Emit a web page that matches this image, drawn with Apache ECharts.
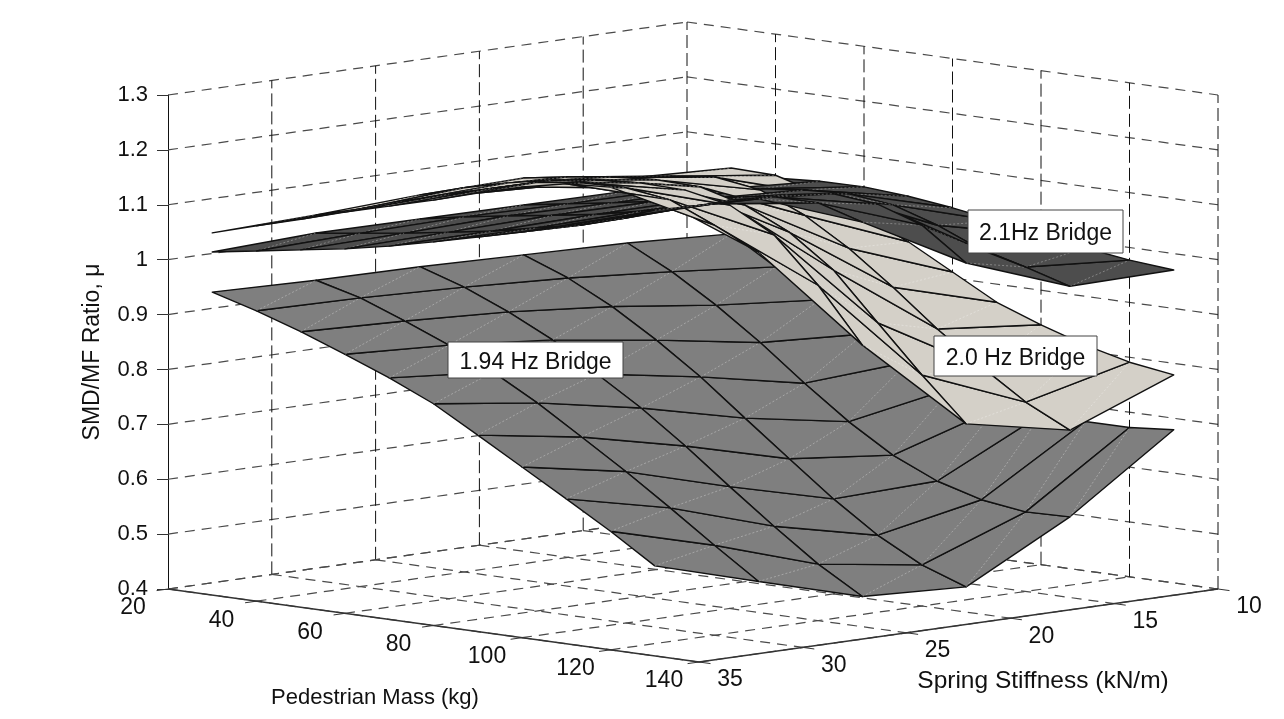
<!DOCTYPE html>
<html>
<head>
<meta charset="utf-8">
<style>html,body{margin:0;padding:0;background:#fff}#c{width:1284px;height:719px}</style>
<script src="https://cdn.jsdelivr.net/npm/echarts@6/dist/echarts.min.js"></script>
</head>
<body>
<div id="c"></div>
<script>
// Axis ticks
const massTicks = [20, 40, 60, 80, 100, 120, 140];
const stiffTicks = [35, 30, 25, 20, 15, 10];
const ratioTicks = [0.4, 0.5, 0.6, 0.7, 0.8, 0.9, 1, 1.1, 1.2, 1.3];
// Surface sample grid
const masses = [30, 40, 50, 60, 70, 80, 90, 100, 110, 120, 130];
const stiffness = [35, 30, 25, 20, 15, 10];
// One row per stiffness, one column per mass
const bridge194 = [
  [.952,.929,.902,.872,.840,.804,.758,.711,.664,.616,.564],
  [.947,.926,.895,.862,.824,.779,.728,.676,.621,.564,.509],
  [.945,.919,.885,.845,.794,.743,.685,.622,.561,.503,.455],
  [.940,.909,.868,.818,.762,.698,.635,.573,.518,.475,.446],
  [.935,.894,.844,.787,.724,.665,.615,.579,.556,.545,.547],
  [.925,.876,.827,.776,.736,.700,.674,.673,.672,.672,.679]
];
const bridge200 = [
  [1.060,1.084,1.107,1.131,1.153,1.175,1.199,1.221,1.238,1.243,1.236],
  [1.066,1.088,1.113,1.137,1.159,1.181,1.191,1.193,1.182,1.147,1.109],
  [1.076,1.100,1.120,1.136,1.147,1.153,1.151,1.135,1.092,1.011,.913],
  [1.080,1.093,1.104,1.110,1.108,1.086,1.048,.990,.905,.821,.743],
  [1.053,1.068,1.077,1.065,1.030,.981,.921,.856,.798,.745,.705],
  [1.045,1.043,1.020,.993,.955,.911,.867,.837,.811,.791,.779]
];
const bridge210 = [
  [1.025,1.038,1.051,1.064,1.080,1.099,1.119,1.139,1.163,1.185,1.212],
  [1.033,1.044,1.055,1.068,1.081,1.098,1.114,1.138,1.166,1.186,1.206],
  [1.032,1.047,1.060,1.072,1.085,1.102,1.122,1.144,1.161,1.161,1.137],
  [1.031,1.044,1.057,1.071,1.086,1.101,1.116,1.129,1.121,1.094,1.036],
  [1.030,1.043,1.055,1.067,1.076,1.080,1.071,1.045,1.011,.991,.967],
  [1.025,1.038,1.043,1.044,1.038,1.028,1.015,1.001,.988,.977,.970]
];
const surfaceLabels = ['1.94 Hz Bridge', '2.0 Hz Bridge', '2.1Hz Bridge'];
const massName = 'Pedestrian Mass (kg)';
const stiffName = 'Spring Stiffness (kN/m)';
const ratioName = 'SMD/MF Ratio, \u03bc';

// Fixed oblique view: maps (mass, stiffness, ratio) onto the grid's two value axes
const M0 = 20, M1 = 140, K0 = 35, K1 = 10;
const XM = 531 / 1050, XK = 519 / 1050, DM = 73 / 494 * 0.9, DK = 73 / 494 * 0.9;
function project(m, k, z) {
  const a = (m - M0) / (M1 - M0), b = (K0 - k) / (K0 - K1);
  return [a * XM + b * XK, z - a * DM + b * DK];
}
const FONT = '"Liberation Sans", Arial, sans-serif';

function quads(surface, name, fill) {
  const out = [];
  for (let r = 0; r + 1 < stiffness.length; r++) {
    for (let c = 0; c + 1 < masses.length; c++) {
      out.push([r, c]);
    }
  }
  return {
    type: 'custom', name, coordinateSystem: 'cartesian2d', clip: false, silent: true,
    animation: false, z: 3,
    data: out,
    renderItem(params, api) {
      const r = api.value(0), c = api.value(1);
      const corners = [[r, c], [r, c + 1], [r + 1, c + 1], [r + 1, c]];
      const pts = corners.map(([i, j]) => api.coord(project(masses[j], stiffness[i], surface[i][j])));
      const avgZ = corners.reduce((s, [i, j]) => s + surface[i][j], 0) / 4;
      const base = surface === bridge194 ? 0 : 2000;
      const z2 = Math.round(base + avgZ * 1000 + (masses[c] + 5) + (stiffness[r] - 2.5) * 0.2);
      return {
        type: 'group',
        children: [
          { type: 'polygon', z2, shape: { points: pts },
            style: { fill, stroke: '#111', lineWidth: 1.4, lineJoin: 'round' } },
          { type: 'line', z2, shape: { x1: pts[1][0], y1: pts[1][1], x2: pts[3][0], y2: pts[3][1] },
            style: { stroke: 'rgba(255,255,255,0.38)', lineWidth: 0.8, lineDash: [2, 2] } }
        ]
      };
    }
  };
}

// Wall, floor and axis line segments: [m1,k1,z1,m2,k2,z2,kind]
const zLo = ratioTicks[0], zHi = ratioTicks[ratioTicks.length - 1];
const segs = [];
ratioTicks.forEach(z => {
  segs.push([M0, K0, z, M0, K1, z, 0]);
  segs.push([M0, K1, z, M1, K1, z, 0]);
});
stiffTicks.forEach(k => {
  segs.push([M0, k, zLo, M1, k, zLo, 0]);
  if (k !== K0) segs.push([M0, k, zLo, M0, k, zHi, 1]);
});
massTicks.forEach(m => {
  segs.push([m, K0, zLo, m, K1, zLo, 0]);
  if (m !== M0) segs.push([m, K1, zLo, m, K1, zHi, 1]);
});
segs.push([M0, K0, zLo, M1, K0, zLo, 2]);
segs.push([M1, K0, zLo, M1, K1, zLo, 2]);
massTicks.forEach(m => segs.push([m, K0, zLo, m, K0 + 0.55, zLo, 3]));
stiffTicks.forEach(k => segs.push([M1, k, zLo, M1 + 2.6, k, zLo, 3]));

const segStyles = [
  { stroke: '#4a4a4a', lineWidth: 1.2, lineDash: [10, 7] },
  { stroke: '#111', lineWidth: 1, lineDash: [13, 5] },
  { stroke: '#333', lineWidth: 1.4 },
  { stroke: '#333', lineWidth: 1 }
];
const frame = {
  type: 'custom', coordinateSystem: 'cartesian2d', clip: false, silent: true, animation: false, z: 1,
  data: segs,
  renderItem(params, api) {
    const a = api.coord(project(api.value(0), api.value(1), api.value(2)));
    const b = api.coord(project(api.value(3), api.value(4), api.value(5)));
    return { type: 'line', shape: { x1: a[0], y1: a[1], x2: b[0], y2: b[1] }, style: segStyles[api.value(6)] };
  }
};

function tickLabels(ticks, at, dx, dy) {
  return {
    type: 'custom', coordinateSystem: 'cartesian2d', clip: false, silent: true, animation: false, z: 4,
    data: ticks.map(t => [t]),
    renderItem(params, api) {
      const t = api.value(0);
      const p = api.coord(at(t));
      return { type: 'text', x: p[0] + dx, y: p[1] + dy,
        style: { text: String(t), fill: '#111', font: '23px ' + FONT, textAlign: 'center', textVerticalAlign: 'middle' } };
    }
  };
}

function noteBox(text, x, y, w, h) {
  return { type: 'group', z: 50, children: [
    { type: 'rect', shape: { x, y, width: w, height: h }, style: { fill: '#fff', stroke: '#444', lineWidth: 1 }, z: 50 },
    { type: 'text', x: x + w / 2, y: y + h / 2 + 2.5, z: 51,
      style: { text, fill: '#111', font: '23px ' + FONT, textAlign: 'center', textVerticalAlign: 'middle' } }
  ] };
}

const chart = echarts.init(document.getElementById('c'), null, { renderer: 'canvas', width: 1284, height: 719 });
chart.setOption({
  animation: false,
  backgroundColor: '#fff',
  grid: { left: 168, right: 66, top: 95, bottom: 130 },
  xAxis: { type: 'value', min: 0, max: 1, show: false },
  yAxis: {
    type: 'value', min: 0.4, max: 1.3, interval: 0.1,
    name: ratioName, nameLocation: 'middle', nameGap: 64, nameRotate: 90,
    nameTextStyle: { color: '#111', fontFamily: 'Liberation Sans', fontSize: 23, padding: [0, 20, 0, 0] },
    axisLine: { show: true, onZero: false, lineStyle: { color: '#111', width: 1 } },
    axisTick: { show: true, inside: false, length: 11, lineStyle: { color: '#333' } },
    axisLabel: { color: '#111', fontFamily: 'Liberation Sans', fontSize: 22, margin: 20 },
    splitLine: { show: false }
  },
  series: [
    frame,
    quads(bridge194, '1.94 Hz Bridge', '#7f7f7f'),
    quads(bridge200, '2.0 Hz Bridge', '#d4d0c8'),
    quads(bridge210, '2.1 Hz Bridge', '#4d4d4d'),
    tickLabels(massTicks, m => project(m, K0, zLo), -35, 19),
    tickLabels(stiffTicks, k => project(M1, k, zLo), 31, 18)
  ],
  graphic: [
    noteBox(surfaceLabels[0], 448, 342, 175, 36),
    noteBox(surfaceLabels[1], 934, 336, 163, 40),
    noteBox(surfaceLabels[2], 968, 210, 155, 43),
    { type: 'text', x: 375, y: 698, z: 50, style: { text: massName, fill: '#111', font: '22px ' + FONT, textAlign: 'center', textVerticalAlign: 'middle' } },
    { type: 'text', x: 1043, y: 681, z: 50, style: { text: stiffName, fill: '#111', font: '24.5px ' + FONT, textAlign: 'center', textVerticalAlign: 'middle' } }
  ]
});
</script>
</body>
</html>
